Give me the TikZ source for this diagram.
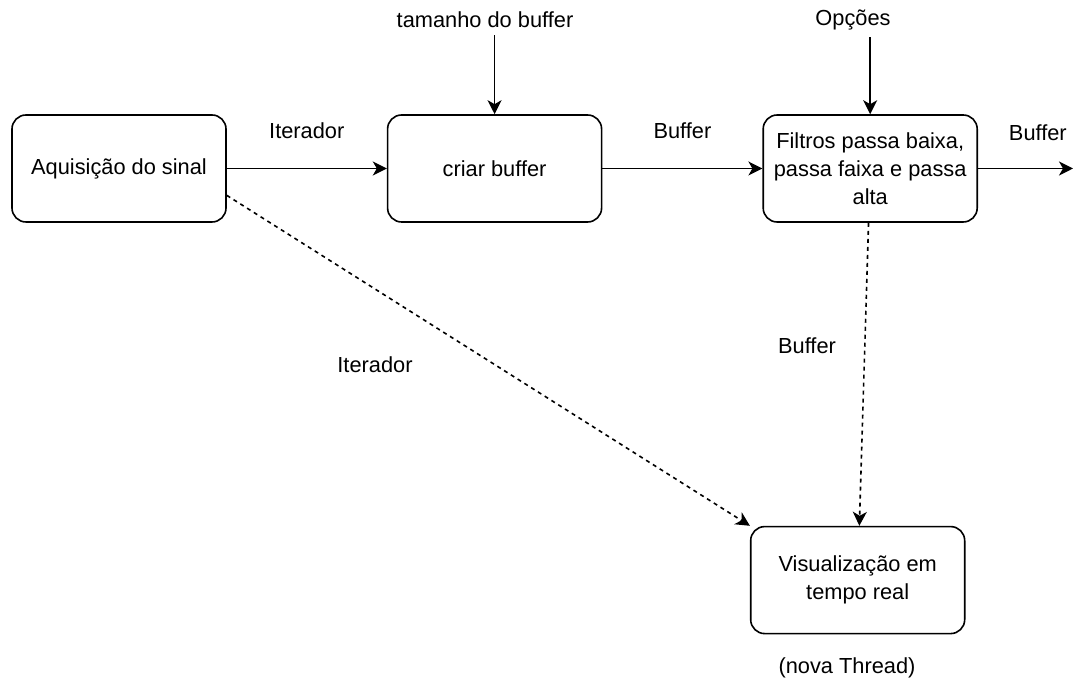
\documentclass[tikz,border=0pt]{standalone}
\usepackage{fontspec}
\setmainfont{Liberation Sans}
\usepackage{tikz}
\usetikzlibrary{arrows.meta, positioning, calc}
\tikzstyle{arrow} = [thick,-{Stealth[length=7pt,width=7pt,inset=2pt]}]
\tikzstyle{box} = [draw, thick, rectangle, rounded corners=7pt, minimum width=107pt, minimum height=53.5pt, align=center]
\tikzstyle{async} = [arrow, dash pattern=on 2pt off 2pt]

\begin{document}
\begin{tikzpicture}[x=0.5pt, y=-0.5pt, node distance=80pt, every node/.style={font=\fontsize{10.9}{14}\selectfont}, align=center]
\useasboundingbox (0,0) rectangle (1073,683);
% Blocos do pipeline
\node (aquisicao) [box] at (119,168.5) {Aquisição do sinal};
\node (criar) [box, right=of aquisicao] {criar buffer};
\node (filtros) [box, right=of criar] {Filtros passa baixa,\\ passa faixa e passa\\ alta};
\node (visual) [box, below=151.5pt of filtros, xshift=-6.25pt] {Visualização em\\ tempo real};

% Entradas e rotulos soltos
\node (tamanho) at (485,20) {tamanho do buffer};
\node (opcoes) at (853,20) {Opções};
\node (iterLabel) at (375,365) {Iterador};
\node (bufLabel) at (807,346) {Buffer};
\node (thread) at (847,668) {(nova Thread)};
\coordinate (saida) at (1073,168.5);

\draw [arrow] (tamanho.south -| criar.north) -- (criar.north);
\draw [arrow] (opcoes.south -| filtros.north) -- (filtros.north);
\draw [arrow] (aquisicao) -- node[yshift=19pt] {Iterador} (criar);
\draw [arrow] (criar) -- node[yshift=19pt] {Buffer} (filtros);
\draw [arrow] (filtros) -- node[pos=0.63, yshift=18pt] {Buffer} (saida);

% Thread de visualizacao
\draw [async] (aquisicao.-14.5) -- (visual.north west);
\draw [async] (filtros) -- (visual);
\end{tikzpicture}
\end{document}
